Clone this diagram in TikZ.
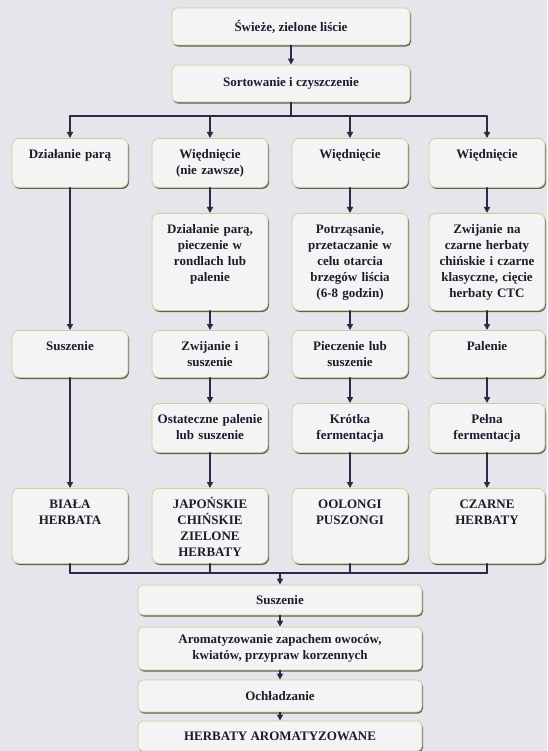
\documentclass[tikz,border=0pt]{standalone}
\usepackage{fontspec}
\setmainfont{Liberation Serif}
\usepackage{tikz}
\usetikzlibrary{arrows.meta,positioning,shadows}
\definecolor{paper}{HTML}{E5E5EB}
\definecolor{boxfill}{HTML}{F4F4F5}
\definecolor{khaki}{HTML}{CFCF9A}
\definecolor{shade}{HTML}{4A4A3A}
\definecolor{ink}{HTML}{1C1C2C}
\definecolor{wire}{HTML}{2A2A48}
\tikzset{
    every picture/.style={line cap=round,line join=round},
    basebox/.style={draw=khaki,fill=boxfill,line width=0.8pt,rounded corners=5pt,
      drop shadow={shadow xshift=1pt,shadow yshift=-1.6pt,fill=shade,opacity=0.85},
      text=ink,font=\fontsize{13}{16}\selectfont\bfseries},
    procbox/.style={basebox,align=center,inner sep=2pt,minimum width=238pt,
      minimum height=37pt},
    widebox/.style={procbox,minimum width=284pt},
    colbox/.style={basebox,rounded corners=7pt,anchor=north,text width=112pt,
      inner xsep=2pt,inner ysep=4pt,align=center,text height=16pt,text depth=#1},
    flowarrow/.style={-{Triangle[length=6pt,width=6pt]},draw=wire,
      line width=1.5pt},
    busline/.style={draw=wire,line width=1.5pt}
}

\begin{document}
\begin{tikzpicture}[x=1pt,y=-1pt]
  \fill[paper] (0,0) rectangle (547,751);
  \useasboundingbox (0,0) rectangle (547,751);
  % top
  \node[procbox] (fresh) at (291,26.5) {Świeże, zielone liście};
  \node[procbox] (sort) at (291,83.5) {Sortowanie i czyszczenie};
  \draw[flowarrow] (fresh) -- (sort);
  \coordinate (bustop) at (0,116);
  \coordinate (busbot) at (0,573);
  % columns
  \node[colbox=25pt] (steam) at (70,138) {Działanie parą};
  \node[colbox=23pt] (dryA) at (70,330) {Suszenie};
  \node[colbox=51pt] (white) at (70,488) {BIAŁA\\HERBATA};

  \node[colbox=25pt] (witherB) at (210,138) {Więdnięcie\\(nie zawsze)};
  \node[colbox=73pt] (panB) at (210,213) {Działanie parą,\\pieczenie w\\rondlach lub\\palenie};
  \node[colbox=23pt] (rollB) at (210,330) {Zwijanie i\\suszenie};
  \node[colbox=25pt] (fireB) at (210,403) {Ostateczne palenie\\lub suszenie};
  \node[colbox=51pt] (green) at (210,488) {JAPOŃSKIE\\CHIŃSKIE\\ZIELONE\\HERBATY};

  \node[colbox=25pt] (witherC) at (350,138) {Więdnięcie};
  \node[colbox=73pt] (shakeC) at (350,213) {Potrząsanie,\\przetaczanie w\\celu otarcia\\brzegów liścia\\(6-8 godzin)};
  \node[colbox=23pt] (bakeC) at (350,330) {Pieczenie lub\\suszenie};
  \node[colbox=25pt] (shortC) at (350,403) {Krótka\\fermentacja};
  \node[colbox=51pt] (oolong) at (350,488) {OOLONGI\\PUSZONGI};

  \node[colbox=25pt] (witherD) at (487,138) {Więdnięcie};
  \node[colbox=73pt] (rollD) at (487,213) {Zwijanie na\\czarne herbaty\\chińskie i czarne\\klasyczne, cięcie\\herbaty CTC};
  \node[colbox=23pt] (fireD) at (487,330) {Palenie};
  \node[colbox=25pt] (fullD) at (487,403) {Pełna\\fermentacja};
  \node[colbox=51pt] (black) at (487,488) {CZARNE\\HERBATY};
  % bottom
  \node[widebox,minimum height=30pt] (dry) at (280,600) {Suszenie};
  \node[widebox,minimum height=43pt] (aroma) at (280,648.5) {Aromatyzowanie zapachem owoców,\\kwiatów, przypraw korzennych};
  \node[widebox,minimum height=32pt] (cool) at (280,696) {Ochładzanie};
  \node[widebox,minimum height=30pt] (flavour) at (280,736) {HERBATY AROMATYZOWANE};

  % split to the four columns
  \draw[busline] (sort) -- (sort |- bustop);
  \draw[busline] (steam |- bustop) -- (witherD |- bustop);
  \draw[flowarrow] (steam |- bustop) -- (steam); \draw[flowarrow] (witherB |- bustop) -- (witherB);
  \draw[flowarrow] (witherC |- bustop) -- (witherC); \draw[flowarrow] (witherD |- bustop) -- (witherD);

  \draw[flowarrow] (steam) -- (dryA); \draw[flowarrow] (dryA) -- (white);
  \draw[flowarrow] (witherB) -- (panB); \draw[flowarrow] (panB) -- (rollB);
  \draw[flowarrow] (rollB) -- (fireB); \draw[flowarrow] (fireB) -- (green);
  \draw[flowarrow] (witherC) -- (shakeC); \draw[flowarrow] (shakeC) -- (bakeC);
  \draw[flowarrow] (bakeC) -- (shortC); \draw[flowarrow] (shortC) -- (oolong);
  \draw[flowarrow] (witherD) -- (rollD); \draw[flowarrow] (rollD) -- (fireD);
  \draw[flowarrow] (fireD) -- (fullD); \draw[flowarrow] (fullD) -- (black);

  % join again
  \draw[busline] (white) -- (white |- busbot); \draw[busline] (green) -- (green |- busbot);
  \draw[busline] (oolong) -- (oolong |- busbot); \draw[busline] (black) -- (black |- busbot);
  \draw[busline] (white |- busbot) -- (black |- busbot);
  \draw[flowarrow] (dry |- busbot) -- (dry);
  \draw[flowarrow] (dry) -- (aroma); \draw[flowarrow] (aroma) -- (cool);
  \draw[flowarrow] (cool) -- (flavour);
\end{tikzpicture}
\end{document}
